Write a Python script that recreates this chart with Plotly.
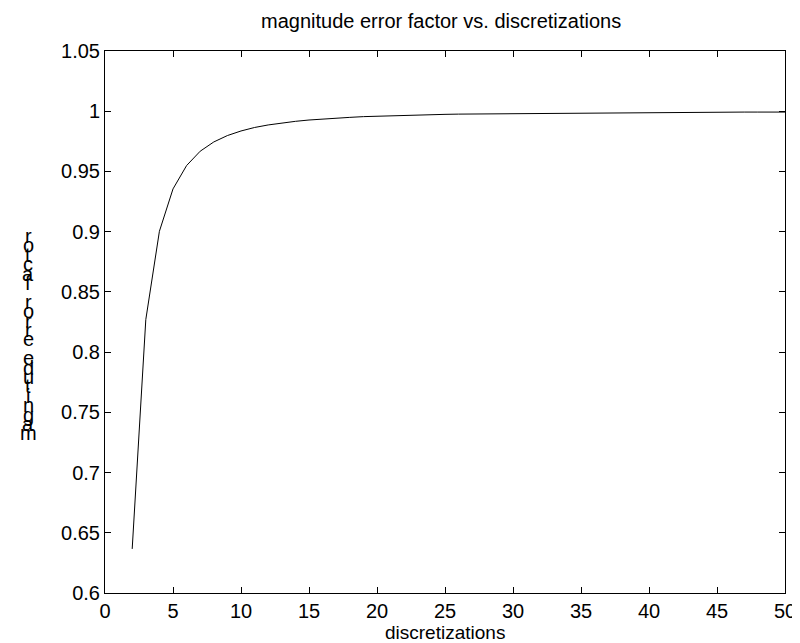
import plotly.graph_objects as go

# discretizations (N) and the magnitude error factor
discretizations = list(range(2, 51))
error_factor = [
    0.6366, 0.8270, 0.9003, 0.9355, 0.9549, 0.9668, 0.9745, 0.9798, 0.9836,
    0.9865, 0.9886, 0.9903, 0.9916, 0.9927, 0.9936, 0.9943, 0.9949, 0.9955,
    0.9959, 0.9963, 0.9966, 0.9969, 0.9971, 0.9974, 0.9976, 0.9977, 0.9979,
    0.9980, 0.9982, 0.9983, 0.9984, 0.9985, 0.9986, 0.9987, 0.9987, 0.9988,
    0.9989, 0.9989, 0.9990, 0.9990, 0.9991, 0.9991, 0.9992, 0.9992, 0.9992,
    0.9993, 0.9993, 0.9993, 0.9993,
]

x_ticks = [0, 5, 10, 15, 20, 25, 30, 35, 40, 45, 50]
y_ticks = [0.6, 0.65, 0.7, 0.75, 0.8, 0.85, 0.9, 0.95, 1.0, 1.05]
y_tick_text = ["0.6", "0.65", "0.7", "0.75", "0.8", "0.85", "0.9", "0.95", "1", "1.05"]

title_text = "magnitude error factor vs. discretizations"
x_label = "discretizations"
y_label = "magnitude error factor"

FONT = "Liberation Sans, Arial, sans-serif"
W, H = 800, 643
L, R, T, B = 97, 14, 43, 58
plot_h = H - T - B
plot_w = W - L - R


def px_x(p):
    # pixel column -> paper x
    return (p - L) / plot_w


def px_y(p):
    # pixel row -> paper y
    return (H - B - p) / plot_h


fig = go.Figure()
fig.add_trace(go.Scatter(
    x=discretizations, y=error_factor, mode="lines",
    line=dict(color="black", width=1), showlegend=False,
))

axis_style = dict(
    showline=True, linecolor="black", linewidth=1, mirror="ticks",
    ticks="inside", ticklen=6, tickcolor="black", tickwidth=1,
    showgrid=False, zeroline=False,
    tickfont=dict(family=FONT, size=20, color="black"),
)

fig.update_layout(
    width=W, height=H,
    margin=dict(l=L, r=R, t=T, b=B),
    plot_bgcolor="white", paper_bgcolor="white",
    font=dict(family=FONT, size=20, color="black"),
    xaxis=dict(range=[0, 50], tickvals=x_ticks, **axis_style),
    yaxis=dict(range=[0.6, 1.05], tickvals=y_ticks, ticktext=y_tick_text, **axis_style),
)

# title and x label as annotations for exact placement
fig.add_annotation(text=title_text, xref="paper", yref="paper",
                   x=px_x(437), y=px_y(13), xanchor="center", yanchor="middle",
                   showarrow=False, font=dict(family=FONT, size=20))
fig.add_annotation(text=x_label, xref="paper", yref="paper",
                   x=px_x(441), y=px_y(624), xanchor="center", yanchor="middle",
                   showarrow=False, borderpad=0, font=dict(family=FONT, size=19))

# y label: reversed letters stacked upright and overlapping
letters = list(reversed(y_label))
top_px, step_px = 228, 9.4
for i, ch in enumerate(letters):
    if ch == " ":
        continue
    fig.add_annotation(text=ch, xref="paper", yref="paper",
                       x=px_x(19), y=px_y(top_px + i * step_px),
                       xanchor="center", yanchor="middle", showarrow=False,
                       font=dict(family=FONT, size=20))

fig.write_html("out.html")
